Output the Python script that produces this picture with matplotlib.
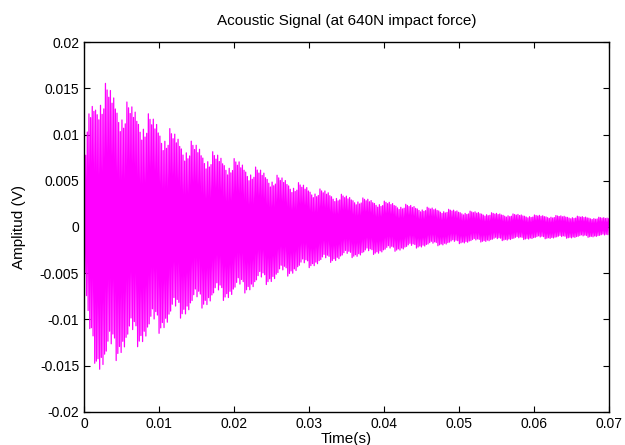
import numpy as np
import matplotlib
matplotlib.use("Agg")
import matplotlib.pyplot as plt

# envelope of the decaying signal (s, V)
env_t = [0.0, 0.0005, 0.001, 0.002, 0.003, 0.005, 0.0075, 0.01, 0.0125, 0.015,
         0.0175, 0.02, 0.025, 0.03, 0.035, 0.04, 0.045, 0.05, 0.055, 0.06, 0.065, 0.07]
env_hi = [0.005, 0.012, 0.0135, 0.0157, 0.0155, 0.0138, 0.0128, 0.0115, 0.0100, 0.0090,
          0.0080, 0.0074, 0.0058, 0.0044, 0.0034, 0.0028, 0.0022, 0.0018, 0.0015, 0.0013, 0.0012, 0.0010]
env_lo = [-0.004, -0.012, -0.014, -0.0157, -0.0156, -0.0138, -0.0128, -0.0115, -0.0100, -0.0090,
          -0.0082, -0.0076, -0.0060, -0.0044, -0.0034, -0.0028, -0.0022, -0.0018, -0.0015, -0.0013, -0.0012, -0.0010]
# relative height of successive peaks (repeating pattern, odd length)
peak_factor = [1.0, 0.86, 0.96, 0.8, 0.92, 0.74, 0.98, 0.84, 0.9, 0.78, 0.95, 0.82, 0.88]

half_period = 0.00011
t = np.arange(0, 0.07 + 1e-9, half_period)
hi = np.interp(t, env_t, env_hi)
lo = np.interp(t, env_t, env_lo)
f = np.resize(peak_factor, len(t))
y = np.where(np.arange(len(t)) % 2 == 0, hi, lo) * f

plt.rcParams['font.family'] = ['Liberation Sans', 'DejaVu Sans']
fig = plt.figure(figsize=(6.25, 4.45), dpi=100)
ax = fig.add_axes([0.1344, 0.0742, 0.84, 0.8314])
ax.plot(t, y, color='#FF00FF', linewidth=0.9)

ax.set_xlim(0, 0.07)
ax.set_ylim(-0.02, 0.02)
xt = [0, 0.01, 0.02, 0.03, 0.04, 0.05, 0.06, 0.07]
yt = [-0.02, -0.015, -0.01, -0.005, 0, 0.005, 0.01, 0.015, 0.02]
ax.set_xticks(xt)
ax.set_xticklabels(['0', '0.01', '0.02', '0.03', '0.04', '0.05', '0.06', '0.07'])
ax.set_yticks(yt)
ax.set_yticklabels(['-0.02', '-0.015', '-0.01', '-0.005', '0', '0.005', '0.01', '0.015', '0.02'])
ax.tick_params(direction='in', top=True, right=True, labelsize=10, length=4, width=0.8)
for s in ax.spines.values():
    s.set_linewidth(1.0)

ax.set_title('Acoustic Signal (at 640N impact force)', fontsize=11, pad=12)
ax.set_xlabel('Time(s)', fontsize=11, labelpad=1)
ax.set_ylabel('Amplitud (V)', fontsize=11, labelpad=10)

fig.savefig('out.png', dpi=100)
